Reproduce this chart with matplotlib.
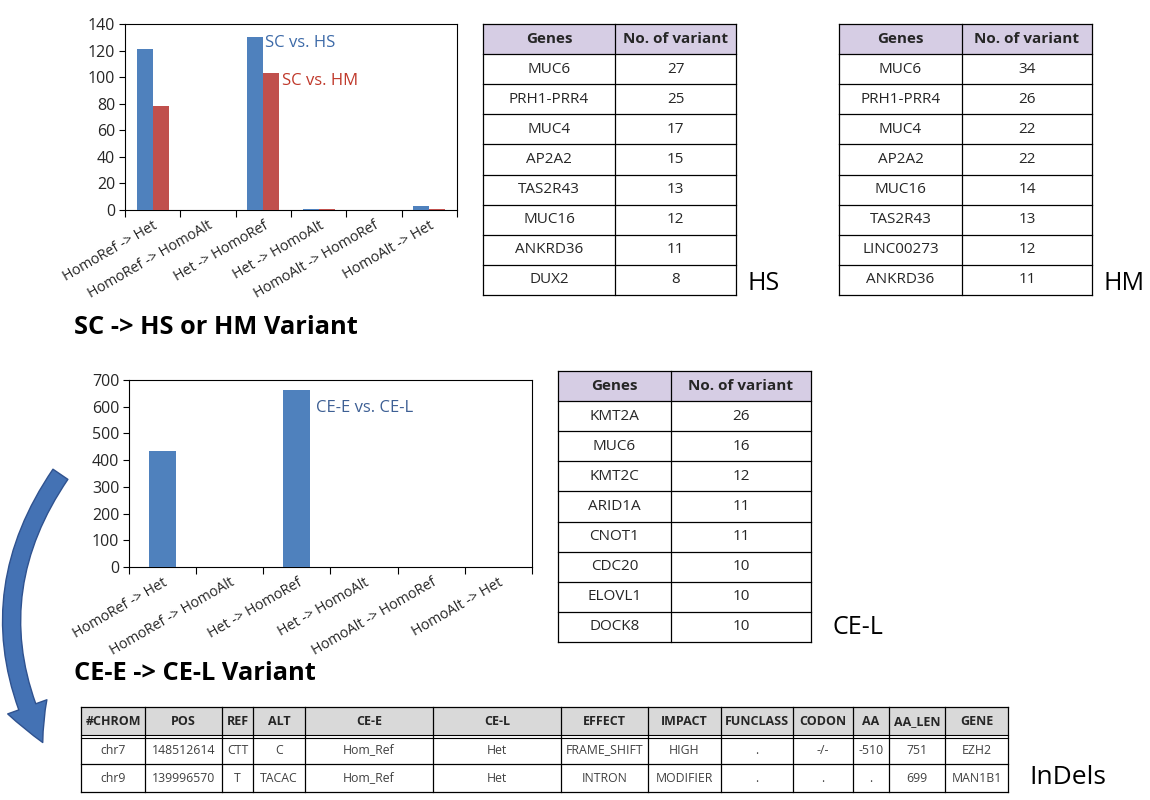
import matplotlib
matplotlib.use("Agg")
import matplotlib.pyplot as plt
from matplotlib.patches import Rectangle, FancyArrowPatch
import numpy as np

plt.rcParams['font.family'] = ['Open Sans', 'DejaVu Sans']

W, H = 1150, 800

# ---------------- data ----------------
categories = ["HomoRef -> Het", "HomoRef -> HomoAlt", "Het -> HomoRef",
              "Het -> HomoAlt", "HomoAlt -> HomoRef", "HomoAlt -> Het"]
sc_vs_hs = [121, 0, 130, 1, 0, 3]
sc_vs_hm = [78, 0, 103, 0.5, 0, 1]
ce_e_vs_ce_l = [435, 0, 662, 0, 0, 0]

table_header = ["Genes", "No. of variant"]
hs_genes = ["MUC6", "PRH1-PRR4", "MUC4", "AP2A2", "TAS2R43", "MUC16", "ANKRD36", "DUX2"]
hs_counts = [27, 25, 17, 15, 13, 12, 11, 8]
hm_genes = ["MUC6", "PRH1-PRR4", "MUC4", "AP2A2", "MUC16", "TAS2R43", "LINC00273", "ANKRD36"]
hm_counts = [34, 26, 22, 22, 14, 13, 12, 11]
cel_genes = ["KMT2A", "MUC6", "KMT2C", "ARID1A", "CNOT1", "CDC20", "ELOVL1", "DOCK8"]
cel_counts = [26, 16, 12, 11, 11, 10, 10, 10]

indel_header = ["#CHROM", "POS", "REF", "ALT", "CE-E", "CE-L", "EFFECT", "IMPACT",
                "FUNCLASS", "CODON", "AA", "AA_LEN", "GENE"]
indel_rows = [
    ["chr7", "148512614", "CTT", "C", "Hom_Ref", "Het", "FRAME_SHIFT", "HIGH", ".", "-/-", "-510", "751", "EZH2"],
    ["chr9", "139996570", "T", "TACAC", "Hom_Ref", "Het", "INTRON", "MODIFIER", ".", ".", ".", "699", "MAN1B1"],
]

BLUE = "#4f81bd"
RED = "#c0504d"
TXT = "#262626"

fig = plt.figure(figsize=(W / 100, H / 100), dpi=100)
fig.patch.set_facecolor("white")


def px_axes(l, t, r, b, **kw):
    return fig.add_axes([l / W, 1 - b / H, (r - l) / W, (b - t) / H], **kw)


# background overlay axes in pixel coordinates
bg = px_axes(0, 0, W, H, zorder=0)
bg.set_xlim(0, W)
bg.set_ylim(H, 0)
bg.axis("off")


def style_chart(ax, ymax, ystep):
    ax.set_xlim(-0.5, len(categories) - 0.5)
    ax.set_ylim(0, ymax)
    ax.set_yticks(np.arange(0, ymax + 1, ystep))
    ax.set_xticks(np.arange(len(categories)))
    ax.set_xticklabels(categories, rotation=30, ha="right", rotation_mode="anchor",
                       fontsize=10.3, color=TXT)
    ax.tick_params(axis="x", length=0, pad=6)
    ax.tick_params(axis="y", length=4, width=0.8, labelsize=11.5, colors="black",
                   labelcolor=TXT, pad=3)
    # boundary ticks between categories
    ax.set_xticks(np.arange(-0.5, len(categories)), minor=True)
    ax.tick_params(axis="x", which="minor", length=5, width=0.8, direction="out")
    for s in ax.spines.values():
        s.set_color("black")
        s.set_linewidth(0.8)


# ---------------- top chart ----------------
ax1 = px_axes(125, 24, 457, 210, zorder=2)
x = np.arange(len(categories))
bw = 0.29
ax1.bar(x - bw / 2, sc_vs_hs, bw, color=BLUE, zorder=3)
ax1.bar(x + bw / 2, sc_vs_hm, bw, color=RED, zorder=3)
style_chart(ax1, 140, 20)
ax1.text(2.03, 125.5, "SC vs. HS", color="#3d6aa8", fontsize=12, va="center", ha="left")
ax1.text(2.34, 97, "SC vs. HM", color="#c0392b", fontsize=12, va="center", ha="left")

# ---------------- bottom chart ----------------
ax2 = px_axes(129, 380, 532, 567, zorder=2)
ax2.bar(x, ce_e_vs_ce_l, 0.4, color=BLUE, zorder=3)
style_chart(ax2, 700, 100)
ax2.text(2.29, 595, "CE-E vs. CE-L", color="#3d5f94", fontsize=12, va="center", ha="left")

# ---------------- titles / labels ----------------
bg.text(74, 327, "SC -> HS or HM Variant", fontsize=18.3, fontweight="bold", color="black",
        va="center", ha="left")
bg.text(74, 674, "CE-E -> CE-L Variant", fontsize=18.3, fontweight="bold", color="black",
        va="center", ha="left")
bg.text(748, 283, "HS", fontsize=18, va="center", ha="left", color="black")
bg.text(1104, 283, "HM", fontsize=18, va="center", ha="left", color="black")
bg.text(833, 628, "CE-L", fontsize=18, va="center", ha="left", color="black")
bg.text(1029, 778, "InDels", fontsize=19, va="center", ha="left", color="black")


# ---------------- gene tables ----------------
def gene_table(x0, xs, x1, y0, y1, genes, counts):
    n = len(genes) + 1
    rh = (y1 - y0) / n
    bg.add_patch(Rectangle((x0, y0), x1 - x0, rh, facecolor="#d6cde4", edgecolor="none"))
    for i in range(n + 1):
        bg.plot([x0, x1], [y0 + i * rh, y0 + i * rh], color="black", lw=0.9)
    for xv in (x0, xs, x1):
        bg.plot([xv, xv], [y0, y1], color="black", lw=0.9)
    bg.text((x0 + xs) / 2, y0 + rh / 2, table_header[0], fontsize=11, fontweight="bold",
            ha="center", va="center", color=TXT)
    bg.text((xs + x1) / 2, y0 + rh / 2, table_header[1], fontsize=11, fontweight="bold",
            ha="center", va="center", color=TXT)
    for i, (g, c) in enumerate(zip(genes, counts)):
        yc = y0 + (i + 1.5) * rh
        bg.text((x0 + xs) / 2, yc, g, fontsize=11, ha="center", va="center", color=TXT)
        bg.text((xs + x1) / 2, yc, str(c), fontsize=11, ha="center", va="center", color=TXT)


gene_table(483, 615, 736, 24, 295, hs_genes, hs_counts)
gene_table(839, 962, 1092, 24, 295, hm_genes, hm_counts)
gene_table(558, 671, 811, 371, 642, cel_genes, cel_counts)

# ---------------- indel table ----------------
col_edges = [81, 145, 222, 253, 305, 433, 561, 648, 721, 793, 853, 889, 945, 1008]
ty0, ty_h, ty1, ty2 = 707, 736, 764, 792
bg.add_patch(Rectangle((col_edges[0], ty0), col_edges[-1] - col_edges[0], ty_h - ty0,
                       facecolor="#d9d9d9", edgecolor="none"))
for yv in (ty0, ty1, ty2):
    bg.plot([col_edges[0], col_edges[-1]], [yv, yv], color="black", lw=0.9)
bg.plot([col_edges[0], col_edges[-1]], [ty_h - 1.5, ty_h - 1.5], color="black", lw=0.8)
bg.plot([col_edges[0], col_edges[-1]], [ty_h + 1.5, ty_h + 1.5], color="black", lw=0.8)
for xv in col_edges:
    bg.plot([xv, xv], [ty0, ty2], color="black", lw=0.9)
for j, h in enumerate(indel_header):
    xc = (col_edges[j] + col_edges[j + 1]) / 2
    bg.text(xc, (ty0 + ty_h) / 2, h, fontsize=9, fontweight="bold", ha="center",
            va="center", color=TXT)
row_tops = [ty_h, ty1]
row_bots = [ty1, ty2]
for r, row in enumerate(indel_rows):
    yc = (row_tops[r] + row_bots[r]) / 2
    for j, v in enumerate(row):
        xc = (col_edges[j] + col_edges[j + 1]) / 2
        bg.text(xc, yc, v, fontsize=8.8, ha="center", va="center", color="#404040")

# ---------------- curved arrow ----------------
arrow = FancyArrowPatch((62, 472), (44, 745),
                        connectionstyle="arc3,rad=0.3",
                        arrowstyle="simple,head_length=28,head_width=30,tail_width=13",
                        mutation_scale=1, facecolor="#4472b4", edgecolor="#2f528f",
                        lw=1.0, zorder=5)
bg.add_patch(arrow)

fig.savefig("out.png", dpi=100, facecolor="white")
